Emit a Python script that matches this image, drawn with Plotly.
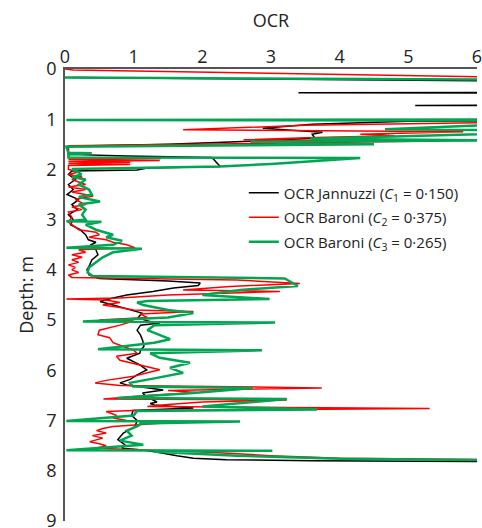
import plotly.graph_objects as go

# Jannuzzi (C1 = 0.150) - black
jan_depth = [0.17, 0.27, 0.46, 0.475, 0.485, 0.71, 0.725, 0.735, 1.03, 1.04, 1.1, 1.18, 1.22, 1.26, 1.3, 1.38,
             1.45, 1.5, 1.54, 1.7, 1.73, 1.76, 1.85, 1.94, 1.97, 2.01, 2.03, 2.1, 2.2, 2.3, 2.4, 2.5, 2.6, 2.7,
             2.8, 2.9, 3.0, 3.1, 3.2, 3.3, 3.4, 3.45, 3.5, 3.6, 3.7, 3.8, 3.9, 4.0, 4.1, 4.17, 4.22, 4.26, 4.31,
             4.36, 4.43, 4.5, 4.56, 4.63, 4.7, 4.8, 4.86, 4.96, 5.03, 5.06, 5.1, 5.2, 5.3, 5.4, 5.52, 5.6, 5.66,
             5.76, 5.89, 5.99, 6.09, 6.18, 6.25, 6.29, 6.35, 6.39, 6.45, 6.52, 6.63, 6.66, 6.69, 6.75, 6.8, 6.9,
             7.0, 7.12, 7.25, 7.38, 7.48, 7.55, 7.58, 7.62, 7.7, 7.75, 7.78, 7.8, 7.83]
jan_ocr = [0.1, 9, 9, 3.4, 9, 9, 5.1, 9, 9, 5.0, 3.6, 2.88, 3.3, 3.75, 3.6, 3.64,
           2.5, 1.5, 0.05, 0.05, 0.9, 2.14, 2.2, 2.26, 1.2, 1.05, 0.1, 0.05, 0.15, 0.05, 0.12, 0.03, 0.2, 0.1,
           0.18, 0.05, 0.12, 0.08, 0.22, 0.3, 0.34, 0.45, 0.38, 0.45, 0.48, 0.39, 0.36, 0.32, 0.35, 0.5, 1.5, 1.97, 1.94,
           1.58, 1.28, 0.9, 0.7, 0.51, 0.7, 0.99, 1.12, 1.06, 1.25, 1.38, 1.1, 1.05, 1.1, 1.13, 1.15, 1.1, 1.09,
           0.9, 1.09, 1.19, 1.05, 0.95, 0.8, 0.9, 1.2, 1.43, 1.13, 1.18, 1.34, 1.24, 1.3, 1.87, 0.99, 0.97,
           1.05, 1.02, 0.85, 0.77, 0.87, 0.83, 1.09, 1.31, 1.63, 1.87, 2.35, 3.6, 9]

# Baroni (C2 = 0.375) - red
bar2_depth = [0.0, 0.01, 0.02, 0.22, 1.04, 1.06, 1.12, 1.21, 1.25, 1.3, 1.33, 1.37, 1.41, 1.44, 1.5, 1.53,
              1.6, 1.76, 1.78, 1.8, 1.82, 1.84, 1.86, 1.88, 1.9, 1.92, 2.0, 2.05, 2.1, 2.15, 2.2, 2.3, 2.35,
              2.4, 2.45, 2.53, 2.6, 2.7, 2.75, 2.8, 2.85, 2.95, 3.05, 3.1, 3.2, 3.25, 3.3, 3.35, 3.4, 3.45, 3.5,
              3.56, 3.6, 3.65, 3.7, 3.75, 3.8, 3.85, 3.9, 3.95, 4.0, 4.05, 4.1, 4.15, 4.2, 4.27, 4.33, 4.4, 4.43,
              4.5, 4.56, 4.58, 4.6, 4.65, 4.7, 4.75, 4.8, 4.83, 4.88, 4.95, 5.0, 5.02, 5.1, 5.2, 5.29, 5.35, 5.45,
              5.5, 5.6, 5.66, 5.72, 5.8, 5.9, 5.99, 6.05, 6.12, 6.2, 6.25, 6.3, 6.35, 6.4, 6.44, 6.5, 6.57, 6.59,
              6.63, 6.68, 6.72, 6.76, 6.8, 6.82, 6.9, 6.95, 7.0, 7.04, 7.08, 7.12, 7.16, 7.2, 7.25, 7.3, 7.35,
              7.42, 7.46, 7.5, 7.55, 7.58, 7.63, 7.7, 7.75, 7.81]
bar2_ocr = [0.0, 0.1, 0.12, 9, 9, 6.5, 3.5, 1.72, 5.8, 4.3, 4.8, 3.5, 2.6, 5.1, 2.0, 0.05,
            0.05, 0.05, 1.4, 0.05, 1.38, 0.05, 0.95, 0.05, 0.95, 0.05, 0.05, 0.2, 0.05, 0.25, 0.1, 0.3, 0.05,
            0.3, 0.1, 0.41, 0.15, 0.3, 0.1, 0.25, 0.05, 0.1, 0.05, 0.1, 0.2, 0.45, 0.5, 0.35, 0.6, 0.7, 0.9,
            1.02, 0.2, 0.3, 0.1, 0.25, 0.1, 0.2, 0.05, 0.15, 0.1, 0.2, 0.05, 0.1, 2.5, 3.42, 2.4, 1.72, 3.13,
            1.5, 0.8, 0.02, 0.6, 0.8, 0.55, 0.8, 1.0, 1.87, 1.1, 1.2, 0.5, 1.0, 0.8, 0.5, 0.48, 0.65, 0.7,
            0.8, 1.0, 1.05, 0.75, 0.8, 1.1, 1.38, 1.2, 1.0, 0.6, 0.44, 0.8, 3.74, 1.5, 1.92, 1.2, 0.56, 3.23,
            2.0, 1.5, 1.2, 5.31, 1.0, 0.6, 0.75, 0.7, 0.9, 1.53, 1.1, 0.7, 0.55, 0.46, 0.6, 0.4, 0.55,
            0.36, 0.5, 0.6, 0.45, 1.09, 2.1, 3.0, 4.0, 9]

# Baroni (C3 = 0.265) - green
bar3_depth = [0.17, 0.23, 1.0, 1.015, 1.03, 1.1, 1.2, 1.22, 1.3, 1.39, 1.42, 1.45, 1.5, 1.52, 1.55, 1.67,
              1.68, 1.7, 1.76, 1.77, 1.89, 1.94, 1.97, 1.99, 2.06, 2.1, 2.15, 2.2, 2.3, 2.4, 2.5, 2.55, 2.64,
              2.7, 2.8, 2.9, 3.0, 3.03, 3.04, 3.1, 3.2, 3.3, 3.35, 3.42, 3.5, 3.56, 3.58, 3.65, 3.75, 3.85,
              3.95, 4.05, 4.12, 4.17, 4.32, 4.4, 4.5, 4.58, 4.62, 4.65, 4.7, 4.8, 4.86, 4.95, 5.03, 5.05, 5.1,
              5.2, 5.3, 5.38, 5.45, 5.58, 5.6, 5.66, 5.75, 5.85, 5.95, 6.05, 6.15, 6.25, 6.32, 6.35, 6.45,
              6.55, 6.57, 6.62, 6.68, 6.72, 6.78, 6.81, 6.9, 7.01, 7.02, 7.06, 7.1, 7.2, 7.3, 7.4, 7.48, 7.59,
              7.6, 7.62, 7.7, 7.76, 7.82]
bar3_ocr = [0.0, 9, 9, 0.02, 9, 6.5, 4.66, 6.5, 6.0, 3.57, 6.3, 2.7, 4.5, 2.7, 0.02, 0.05,
            0.39, 0.05, 0.05, 4.3, 3.0, 2.26, 1.0, 0.1, 0.2, 0.24, 0.1, 0.3, 0.2, 0.35, 0.39, 0.2, 0.51,
            0.2, 0.3, 0.25, 0.3, 0.02, 0.53, 0.3, 0.45, 0.7, 0.6, 0.83, 0.7, 0.02, 1.12, 0.7, 0.55, 0.45,
            0.35, 0.33, 0.4, 3.2, 3.39, 2.55, 2.0, 2.98, 1.2, 1.05, 1.14, 1.5, 1.87, 1.5, 0.26, 3.06, 1.3,
            1.2, 1.38, 1.53, 1.3, 0.48, 2.87, 1.24, 1.38, 1.82, 1.53, 1.72, 1.34, 0.95, 0.99, 2.74, 1.87,
            0.76, 3.23, 2.8, 2.26, 2.0, 3.67, 1.05, 1.0, 0.02, 2.55, 1.1, 1.07, 0.9, 0.97, 0.8, 1.14, 0.02,
            3.02, 1.3, 2.5, 4.0, 9]

names = ["OCR Jannuzzi (<i>C</i><sub>1</sub> = 0·150)",
         "OCR Baroni (<i>C</i><sub>2</sub> = 0·375)",
         "OCR Baroni (<i>C</i><sub>3</sub> = 0·265)"]
x_ticks = [0, 1, 2, 3, 4, 5, 6]
y_ticks = [0, 1, 2, 3, 4, 5, 6, 7, 8, 9]

FONT = "Open Sans"
fig = go.Figure()
fig.add_trace(go.Scatter(x=jan_ocr, y=jan_depth, mode="lines", name=names[0], legendgroup="a",
                         line=dict(color="#000000", width=1.5)))
fig.add_trace(go.Scatter(x=bar2_ocr, y=bar2_depth, mode="lines", name=names[1], legendgroup="b",
                         line=dict(color="#ff0000", width=1.5)))
fig.add_trace(go.Scatter(x=bar3_ocr, y=bar3_depth, mode="lines", name=names[2], legendgroup="c",
                         line=dict(color="#00a651", width=2.5)))

fig.update_layout(
    width=482, height=528,
    margin=dict(l=65, r=5, t=69, b=7),
    paper_bgcolor="white", plot_bgcolor="white",
    font=dict(family=FONT, size=18, color="#222222"),
    showlegend=True,
    legend=dict(x=0.434, y=0.762, xanchor="left", yanchor="top",
                font=dict(family=FONT, size=15, color="#222222"),
                bgcolor="rgba(0,0,0,0)", itemwidth=30, tracegroupgap=2),
    xaxis=dict(side="top", range=[0, 6], tickvals=x_ticks, showgrid=False, zeroline=False,
               showline=True, linecolor="#555555", linewidth=1.5, ticks="",
               ticklabelstandoff=-3, ticklabeloverflow="allow", automargin=False,
               title=dict(text="OCR", font=dict(size=18), standoff=12)),
    yaxis=dict(range=[9, 0], tickvals=y_ticks, showgrid=False, zeroline=False,
               showline=True, linecolor="#555555", linewidth=1.5, ticks="",
               ticklabelstandoff=3, ticklabeloverflow="allow", automargin=False,
               title=dict(text="Depth: m", font=dict(size=18), standoff=8)),
)
fig.write_html("out.html", config={"displayModeBar": False},
               post_script="document.body.style.margin='0';document.body.style.overflow='hidden';")
